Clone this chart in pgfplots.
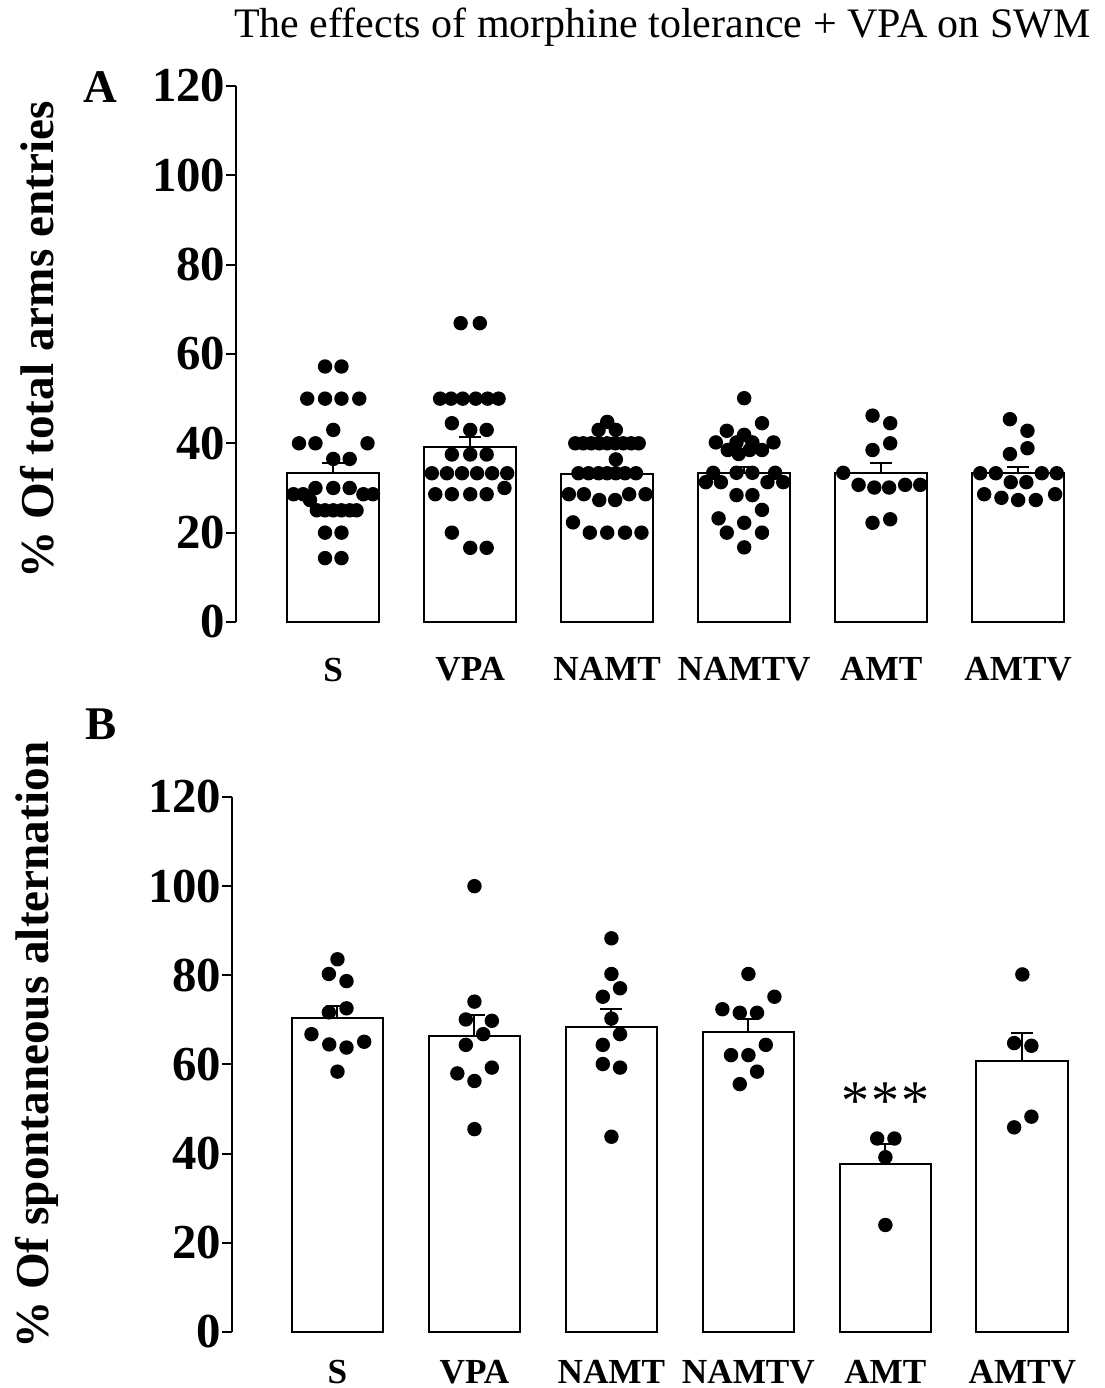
\documentclass[border=0pt]{standalone}
\usepackage{fontspec}
\setmainfont{Liberation Serif}
\usepackage{pgfplots}
\pgfplotsset{compat=1.18}

\pgfplotsset{
  panel/.style={
    scale only axis, width=210.6pt,
    ymin=0, ymax=120, ytick={0,20,...,120},
    axis y line*=left, axis x line*=bottom,
    x axis line style={draw=none},
    xtick={1,...,6},
    xticklabels={S,VPA,NAMT,NAMTV,AMT,AMTV},
    xtick style={draw=none},
    tick align=outside, major tick length=2.5pt,
    ytick style={line width=0.5pt, black},
    y axis line style={line width=0.5pt},
    /pgf/number format/assume math mode=true,
    yticklabel style={font=\fontsize{12.2}{12}\selectfont\bfseries, inner sep=0pt, xshift=0pt},
    xticklabel style={font=\fontsize{8.8}{9}\selectfont\bfseries},
    clip=false,
  },
  bars/.style={ybar, bar width=0.67, fill=white, draw=black, line width=0.5pt,
    error bars/.cd, y dir=plus, y explicit, error mark=-,
    error bar style={line width=0.5pt, black},
    error mark options={rotate=90, mark size=2.75pt, line width=0.5pt, black}},
  dots/.style={only marks, mark=*, mark size=1.6pt, black},
}

\begin{document}
\begin{tikzpicture}
\useasboundingbox (0,0) rectangle (276pt,347pt);

\node[anchor=base, font=\fontsize{10.5}{11}\selectfont] at (165.6pt,337.5pt)
  {The effects of morphine tolerance + VPA on SWM};
\node[font=\fontsize{11.7}{12}\selectfont\bfseries] at (25pt,325.25pt) {A};
\node[font=\fontsize{11.7}{12}\selectfont\bfseries] at (25.25pt,166pt) {B};

% panel A: % of total arm entries
\begin{axis}[panel,
  at={(59pt,191.5pt)}, anchor=south west, height=134pt,
  xmin=0.29, xmax=6.44,
  xticklabel style={yshift=-2.9pt},
  ylabel={\% Of total arms entries},
  ylabel style={at={(axis description cs:-0.236,0.526)}, anchor=center,
    font=\fontsize{11.8}{12}\selectfont\bfseries},
]
\addplot[bars] coordinates {
  (1,33.4) +- (0,2.1)
  (2,39.1) +- (0,2.4)
  (3,33.1) +- (0,0.4)
  (4,33.4) +- (0,1.2)
  (5,33.4) +- (0,2.1)
  (6,33.4) +- (0,1.4)
};
% S
\addplot[dots] coordinates {
  (0.94,57.2)(1.06,57.2)
  (0.81,50)(0.94,50)(1.06,50)(1.19,50)
  (1,43)
  (0.75,40)(0.87,40)(1.25,40)
  (1,36.5)(1.12,36.5)
  (0.87,30)(1,30)(1.12,30)
  (0.71,28.6)(0.78,28.6)(1.22,28.6)(1.29,28.6)
  (0.83,27.3)
  (0.88,25)(0.94,25)(1,25)(1.06,25)(1.12,25)(1.17,25)
  (0.94,20)(1.06,20)
  (0.94,14.3)(1.06,14.3)
};
% VPA
\addplot[dots] coordinates {
  (1.93,66.9)(2.07,66.9)
  (1.78,50)(1.86,50)(1.945,50)(2.04,50)(2.127,50)(2.207,50)
  (1.866,44.5)
  (2,43)(2.12,43)
  (1.866,37.5)(2,37.5)(2.12,37.5)
  (1.72,33.3)(1.83,33.3)(1.94,33.3)(2.05,33.3)(2.16,33.3)(2.27,33.3)
  (2.25,30)
  (1.745,28.6)(1.866,28.6)(2,28.6)(2.12,28.6)
  (1.866,20)
  (2,16.6)(2.12,16.6)
};
% NAMT
\addplot[dots] coordinates {
  (3,44.8)
  (2.937,43)(3.063,43)
  (2.767,40)(2.825,40)(2.883,40)(2.942,40)(3,40)(3.058,40)(3.117,40)(3.175,40)(3.23,40)
  (3.063,36.4)
  (2.79,33.3)(2.864,33.3)(2.937,33.3)(3,33.3)(3.063,33.3)(3.13,33.3)(3.21,33.3)
  (2.72,28.6)(2.83,28.6)(3.16,28.6)(3.28,28.6)
  (2.942,27.3)(3.058,27.3)
  (2.75,22.3)
  (2.873,20)(3,20)(3.13,20)(3.25,20)
};
% NAMTV
\addplot[dots] coordinates {
  (4,50.1)
  (4.13,44.5)
  (3.873,42.8)
  (4,41.9)
  (3.793,40.2)(3.944,40.2)(4.06,40.2)(4.214,40.2)
  (3.88,38.5)(4.04,38.5)(4.13,38.5)
  (3.96,37.6)
  (3.774,33.4)(3.944,33.4)(4.06,33.4)(4.226,33.4)
  (3.72,31.3)(3.83,31.3)(4.17,31.3)(4.285,31.3)
  (3.944,28.4)(4.06,28.4)
  (4.13,25.1)
  (3.813,23.2)
  (4,22.2)
  (3.873,20)(4.13,20)
  (4,16.7)
};
% AMT
\addplot[dots] coordinates {
  (4.937,46.2)
  (5.066,44.5)
  (5.066,40)
  (4.937,38.5)
  (4.723,33.4)
  (4.835,30.7)(5.175,30.7)(5.285,30.7)
  (4.95,30.1)(5.058,30.1)
  (5.066,23)
  (4.937,22.2)
};
% AMTV
\addplot[dots] coordinates {
  (5.94,45.4)
  (6.068,42.8)
  (6.068,38.9)
  (5.94,37.6)
  (5.723,33.3)(5.837,33.3)(6.173,33.3)(6.282,33.3)
  (5.946,31.3)(6.06,31.3)
  (5.752,28.6)(6.27,28.6)
  (5.878,27.8)
  (6,27.3)(6.129,27.3)
};
\end{axis}

% panel B: % spontaneous alternation
\begin{axis}[panel,
  at={(58pt,14pt)}, anchor=south west, height=133.75pt,
  xmin=0.23, xmax=6.38,
  xticklabel style={yshift=-1.1pt},
  ylabel={\% Of spontaneous alternation},
  ylabel style={at={(axis description cs:-0.231,0.536)}, anchor=center,
    font=\fontsize{11.8}{12}\selectfont\bfseries},
]
\addplot[bars] coordinates {
  (1,70.5) +- (0,2.6)
  (2,66.5) +- (0,4.6)
  (3,68.5) +- (0,4.0)
  (4,67.4) +- (0,2.7)
  (5,37.6) +- (0,4.6)
  (6,60.8) +- (0,6.2)
};
\addplot[dots] coordinates {
  (1,83.6)(0.937,80.3)(1.066,78.7)(1.066,72.6)(0.937,71.7)
  (0.81,66.8)(0.94,64.5)(1.066,63.8)(1.195,65.1)(1,58.4)
};
\addplot[dots] coordinates {
  (2,100)(2,74.1)(1.937,70.1)(2.127,69.8)(2.064,66.8)
  (1.937,64.4)(2.127,59.3)(1.875,58)(2,56.3)(2,45.5)
};
\addplot[dots] coordinates {
  (3,88.3)(3,80.3)(3.063,77.1)(2.937,75.2)(3,70.3)
  (3.063,66.8)(2.937,64.4)(2.937,60.1)(3.063,59.3)(3,43.8)
};
\addplot[dots] coordinates {
  (4,80.3)(4.19,75.2)(3.81,72.4)(3.937,71.6)(4.063,71.6)
  (4.127,64.4)(3.873,62.1)(4,62.1)(4.063,58.4)(3.937,55.6)
};
\addplot[dots] coordinates {
  (4.94,43.4)(5.066,43.4)(5,39.2)(5,24)
};
\addplot[dots] coordinates {
  (6,80.2)(5.94,64.8)(6.066,64.2)(6.066,48.3)(5.94,45.9)
};
\node[anchor=base, font=\fontsize{14}{14}\selectfont] at (axis cs:5,47.7)
  {*\hspace{0.5pt}*\hspace{0.5pt}*};
\end{axis}
\end{tikzpicture}
\end{document}
